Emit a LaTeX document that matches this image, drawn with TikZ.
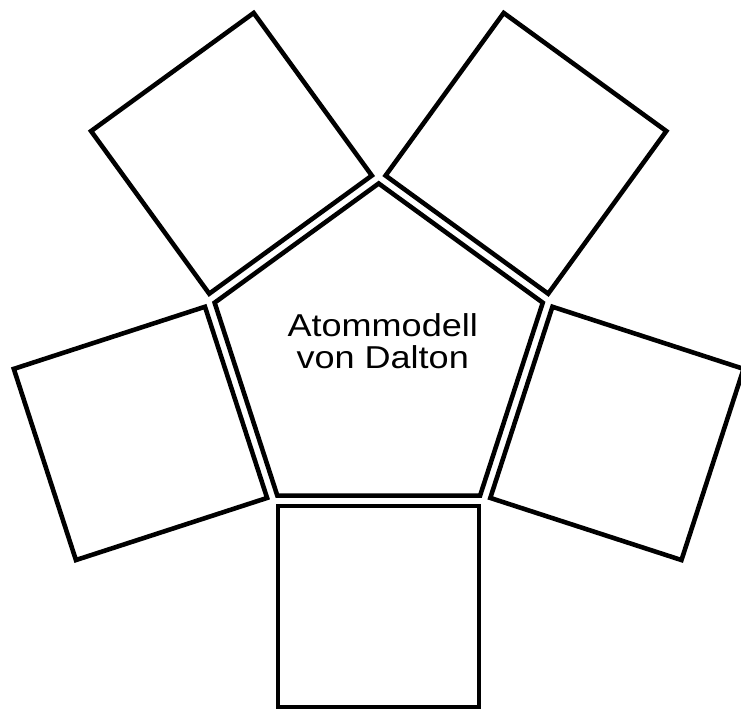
\documentclass[tikz,border=0pt]{standalone}
\usepackage{fontspec}
\newfontfamily\labelfont[FakeStretch=1.14]{Liberation Sans}
\usetikzlibrary{shapes.geometric,positioning}

\begin{document}
\begin{tikzpicture}[x=0.03cm, y=0.03cm,
    hub/.style={regular polygon, regular polygon sides=5, draw=black,
                line width=3.9pt, minimum size=10.35cm, inner sep=0pt},
    tile/.style={rectangle, draw=black, line width=3.9pt,
                 minimum size=6.03cm, inner sep=0pt}]
\useasboundingbox (-378.7,-353) rectangle (362.3,356);

\node[hub] (model) at (0,0) {};
\node[font={\labelfont\fontsize{27pt}{27.5pt}\selectfont}, align=center, inner sep=0pt]
    (title) at (4,14.5) {Atommodell\\von Dalton};

% Tiles around the pentagon
\node[tile, rotate=36]  (tl) at (126:250.5) {};
\node[tile, rotate=-36] (tr) at (54:250.5) {};
\node[tile, rotate=18]  (ml) at (198:250.5) {};
\node[tile, rotate=-18] (mr) at (342:250.5) {};
\node[tile]             (bt) at (270:250.5) {};
\end{tikzpicture}
\end{document}
